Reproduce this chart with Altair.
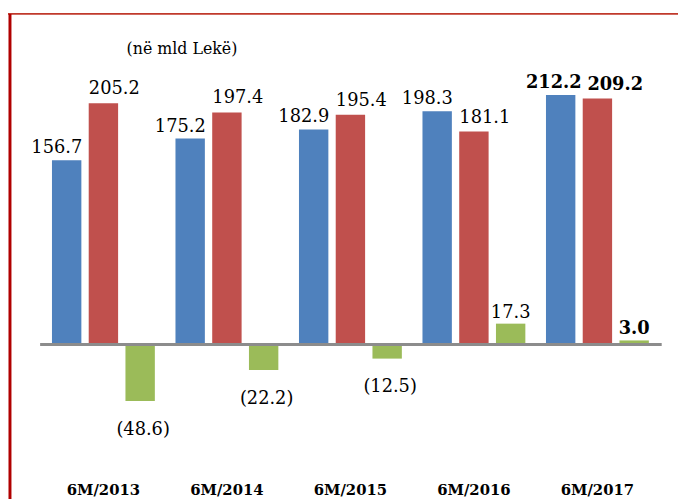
import altair as alt
import pandas as pd

years = ["6M/2013", "6M/2014", "6M/2015", "6M/2016", "6M/2017"]
series = ["Të ardhurat", "Shpenzimet", "Bilanci"]
revenues = [156.7, 175.2, 182.9, 198.3, 212.2]
expenditures = [205.2, 197.4, 195.4, 181.1, 209.2]
balance = [-48.6, -22.2, -12.5, 17.3, 3.0]
colors = ["#4F81BD", "#C0504D", "#9BBB59"]
unit_note = "(në mld Lekë)"
bold_year = "6M/2017"

rows = []
for s, vals in zip(series, [revenues, expenditures, balance]):
    for y, v in zip(years, vals):
        lab = f"({-v:.1f})" if v < 0 else f"{v:.1f}"
        rows.append({"year": y, "series": s, "value": v, "label": lab})
df = pd.DataFrame(rows)

FONT = "DejaVu Serif"

x_enc = alt.X(
    "year:N",
    scale=alt.Scale(domain=years, paddingInner=0.167, paddingOuter=0.1),
    axis=alt.Axis(title=None, labelAngle=0, ticks=False, domain=False, grid=False,
                  labelFont=FONT, labelFontWeight="bold", labelFontSize=15,
                  labelColor="black", labelPadding=15),
)
xoff_enc = alt.XOffset("series:N", scale=alt.Scale(domain=series, paddingInner=0.2, paddingOuter=0))
y_enc = alt.Y("value:Q", stack=None,
              scale=alt.Scale(domain=[-105.3, 256.95], nice=False, zero=False),
              axis=alt.Axis(values=[0], grid=True, gridColor="#8c8c8c", gridWidth=3,
                            labels=False, ticks=False, domain=False, title=None, zindex=1))

bars = alt.Chart(df).mark_bar().encode(
    x=x_enc, xOffset=xoff_enc, y=y_enc,
    color=alt.Color("series:N", scale=alt.Scale(domain=series, range=colors), legend=None)
)

def label_layers(sname, positive, dx, dx_bold, dy, baseline):
    out = []
    for bold in (False, True):
        sub = df[(df["series"] == sname)
                 & ((df["value"] >= 0) if positive else (df["value"] < 0))
                 & ((df["year"] == bold_year) if bold else (df["year"] != bold_year))]
        if len(sub) == 0:
            continue
        out.append(
            alt.Chart(sub).mark_text(
                font=FONT, fontSize=18, color="black", dx=dx_bold if bold else dx, dy=dy,
                baseline=baseline, fontWeight="bold" if bold else "normal",
            ).encode(x=x_enc, xOffset=xoff_enc, y=y_enc, text="label:N")
        )
    return out

text_layers = []
text_layers += label_layers(series[0], True, -10, -7, -7, "alphabetic")
text_layers += label_layers(series[1], True, 11, 18, -9, "alphabetic")
text_layers += label_layers(series[2], True, 0, 0, -6, "alphabetic")
text_layers += label_layers(series[2], False, 3, 3, 20, "top")

one = pd.DataFrame({"note": [unit_note]})
note = alt.Chart(one).mark_text(font=FONT, fontSize=16, color="black", align="left",
                                baseline="alphabetic").encode(
    text="note:N", x=alt.value(88), y=alt.value(12))
border_top = alt.Chart(one).mark_rule(color="#C0392B", strokeWidth=2).encode(
    x=alt.value(-32), x2=alt.value(646), y=alt.value(-29))
border_left = alt.Chart(one).mark_rule(color="#B00000", strokeWidth=3).encode(
    x=alt.value(-30), y=alt.value(-29), y2=alt.value(462))

chart = alt.layer(bars, *text_layers, note, border_top, border_left).properties(
    width=629, height=430,
    padding={"left": 32, "top": 32, "right": 17, "bottom": 32},
    autosize=alt.AutoSizeParams(type="none"),
).configure_view(stroke=None)

chart.save("out.html", embed_options={"renderer": "svg", "actions": False})
